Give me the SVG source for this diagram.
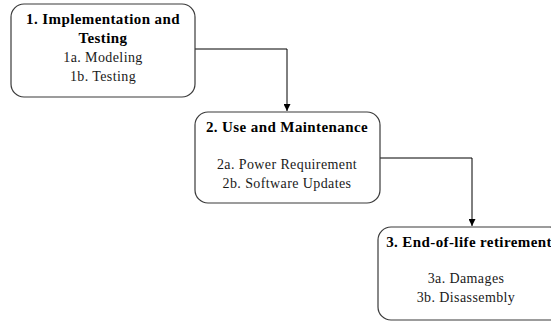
<svg xmlns="http://www.w3.org/2000/svg" width="551" height="322" viewBox="0 0 551 322">
  <style>
    .box { fill: #ffffff; stroke: #3a3a3a; stroke-width: 1.2; }
    text { font-family: 'Liberation Serif', 'Times New Roman', 'DejaVu Serif', serif; text-anchor: middle; }
    .title { font-size: 15px; font-weight: bold; fill: #000; letter-spacing: 0.4px; }
    .item { font-size: 14px; fill: #1a1a1a; letter-spacing: 0.4px; }
    .conn { fill: none; stroke: #000; stroke-width: 1; }
  </style>
  <defs>
    <marker id="arrow" viewBox="0 0 10 10" refX="10" refY="5" markerWidth="7" markerHeight="7" markerUnits="userSpaceOnUse" orient="auto">
      <path d="M0,0 L10,5 L0,10 Z" fill="#000"/>
    </marker>
  </defs>
  <rect width="551" height="322" fill="#ffffff"/>

  <g id="connectors">
    <path class="conn" d="M195,49 H287 V111" marker-end="url(#arrow)"/>
    <path class="conn" d="M380,158 H472 V226" marker-end="url(#arrow)"/>
  </g>

  <g id="node-1">
    <rect class="box" x="11" y="4" width="184" height="93" rx="13"/>
    <text class="title" x="103" y="24">1. Implementation and</text>
    <text class="title" x="103" y="43">Testing</text>
    <text class="item" x="103" y="62">1a. Modeling</text>
    <text class="item" x="103" y="81">1b. Testing</text>
  </g>

  <g id="node-2">
    <rect class="box" x="195" y="112" width="185" height="91" rx="13"/>
    <text class="title" x="287" y="132">2. Use and Maintenance</text>
    <text class="item" x="287" y="169">2a. Power Requirement</text>
    <text class="item" x="287" y="188">2b. Software Updates</text>
  </g>

  <g id="node-3">
    <rect class="box" x="378" y="227" width="185" height="93" rx="13"/>
    <text class="title" x="469" y="247">3. End-of-life retirement</text>
    <text class="item" x="466" y="283">3a. Damages</text>
    <text class="item" x="466" y="302">3b. Disassembly</text>
  </g>
</svg>
